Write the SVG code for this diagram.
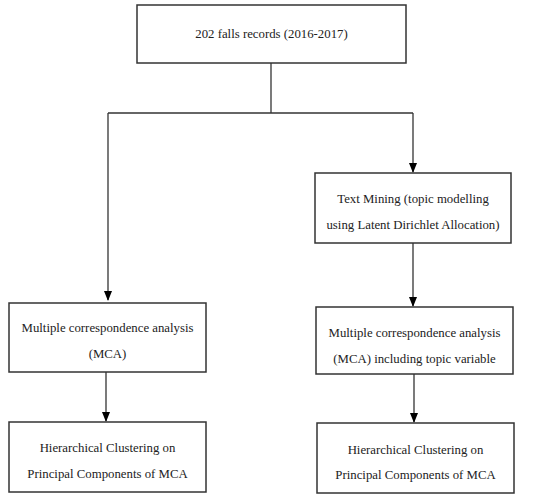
<svg xmlns="http://www.w3.org/2000/svg" width="550" height="499" viewBox="0 0 550 499">
<defs>
<marker id="arr" markerWidth="10" markerHeight="8" refX="9" refY="4" orient="auto" markerUnits="userSpaceOnUse">
<path d="M0,0 L10,4 L0,8 Z" fill="#000"/>
</marker>
<style>
.box{fill:#fff;stroke:#333;stroke-width:1.5}
.t{font-family:"Liberation Serif","DejaVu Serif",serif;font-size:12.8px;fill:#222;text-anchor:middle}
.c{fill:none;stroke:#333;stroke-width:1.3}
</style>
</defs>
<rect width="550" height="499" fill="#fff"/>
<g id="connectors">
<path class="c" d="M271,63 V113"/>
<path class="c" d="M108,113 H413"/>
<path class="c" d="M108,113 V300" marker-end="url(#arr)"/>
<path class="c" d="M413,113 V172" marker-end="url(#arr)"/>
<path class="c" d="M413,243 V306" marker-end="url(#arr)"/>
<path class="c" d="M106,372 V421" marker-end="url(#arr)"/>
<path class="c" d="M414,374 V422" marker-end="url(#arr)"/>
</g>
<g id="n1">
<rect class="box" x="137" y="5" width="269" height="58"/>
<text class="t" x="271.5" y="38">202 falls records (2016-2017)</text>
</g>
<g id="n2">
<rect class="box" x="315" y="173" width="196" height="70"/>
<text class="t" x="413" y="203">Text Mining (topic modelling</text>
<text class="t" x="413" y="229">using Latent Dirichlet Allocation)</text>
</g>
<g id="n3">
<rect class="box" x="9" y="303" width="197" height="69"/>
<text class="t" x="107.5" y="332">Multiple correspondence analysis</text>
<text class="t" x="107.5" y="358">(MCA)</text>
</g>
<g id="n4">
<rect class="box" x="316" y="307" width="197" height="67"/>
<text class="t" x="414.5" y="337">Multiple correspondence analysis</text>
<text class="t" x="414.5" y="363">(MCA) including topic variable</text>
</g>
<g id="n5">
<rect class="box" x="9" y="422" width="197" height="70"/>
<text class="t" x="107.5" y="452">Hierarchical Clustering on</text>
<text class="t" x="107.5" y="478">Principal Components of MCA</text>
</g>
<g id="n6">
<rect class="box" x="317" y="423" width="197" height="70"/>
<text class="t" x="415.5" y="454">Hierarchical Clustering on</text>
<text class="t" x="415.5" y="479">Principal Components of MCA</text>
</g>
</svg>
